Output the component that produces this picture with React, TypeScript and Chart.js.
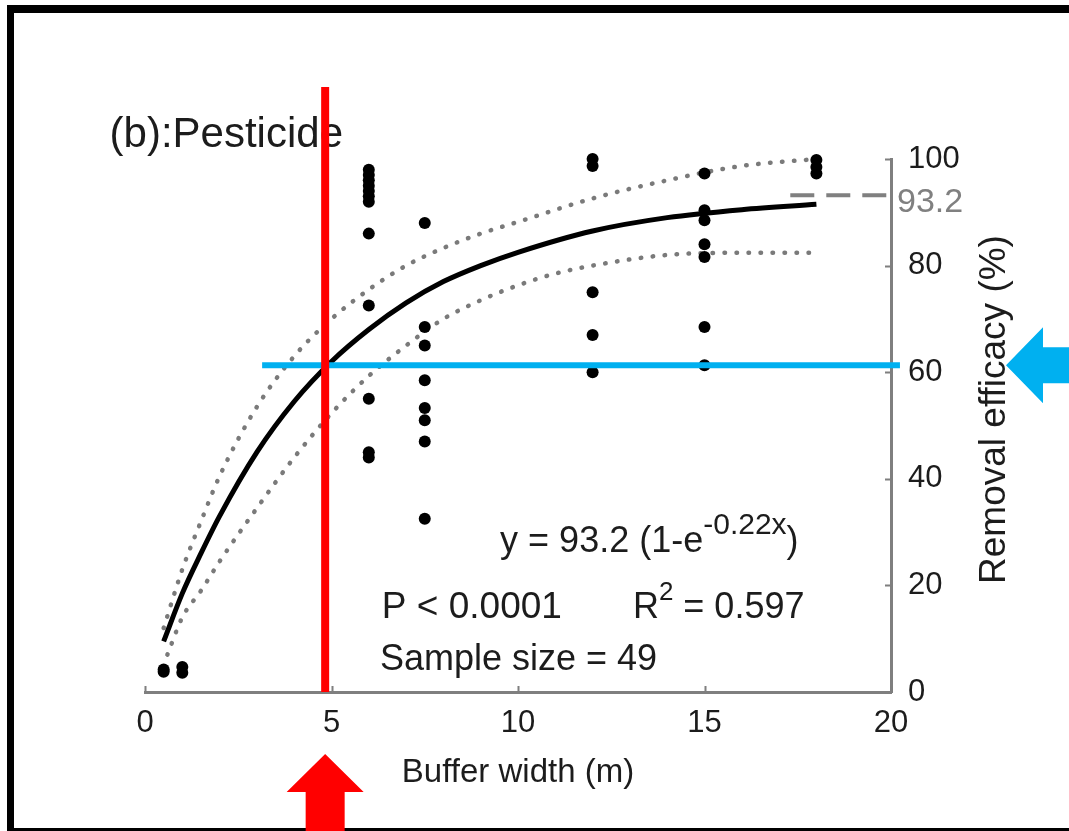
import React, { useEffect, useRef } from "react";
import { Chart, registerables } from "chart.js";

Chart.register(...registerables);

const FONT = "'Liberation Sans', Arial, Helvetica, sans-serif";
const AXIS = "#7f7f7f";
const TEXT = "#1c1c1c";
const DOT_GREY = "#7a7a7a";
const RED = "#ff0000";
const BLUE = "#00b0f0";

// ---- observations: buffer width (m) vs removal efficacy (%)
const obsX = [
  0.5, 0.5, 1, 1,
  6, 6, 6, 6, 6, 6, 6, 6, 6, 6, 6, 6,
  7.5, 7.5, 7.5, 7.5, 7.5, 7.5, 7.5, 7.5,
  12, 12, 12, 12, 12,
  15, 15, 15, 15, 15, 15, 15,
  18, 18, 18,
];
const obsY = [
  3.8, 4.2, 3.6, 4.7,
  98, 97, 96, 95, 94, 93, 92, 86, 72.5, 55, 45, 44,
  88, 68.5, 65, 58.5, 53.3, 51, 47, 32.5,
  100, 98.7, 75, 67, 60,
  97.3, 90.4, 88.5, 84, 81.6, 68.5, 61.3,
  99.8, 98.5, 97.3,
];

// ---- fitted curve
const fitX = [0.5, 1, 1.5, 2, 3, 4, 5, 6, 7, 8, 9, 10, 12, 14, 16, 18];
const fitY = [9.5, 18.5, 26, 33, 45, 54.5, 62, 68, 73, 77, 80, 82.5, 86.5, 89, 90.5, 91.5];

// ---- upper confidence band
const upX = [0.5, 1, 1.5, 2, 3, 4, 5, 6, 7, 8, 9, 10, 12, 14, 16, 18];
const upY = [12, 23, 32, 40.5, 53.5, 63, 70, 75.5, 80, 83.3, 86, 88.2, 92.6, 96, 98.7, 100];

// ---- lower confidence band
const loX = [0.6, 1, 1.5, 2, 3, 4, 5, 6, 7, 8, 9, 10, 11, 12, 14, 16, 18];
const loY = [7, 14, 19, 24.5, 34.5, 44, 52.3, 59.3, 65, 70, 73.5, 76.3, 78.5, 80, 82, 82.4, 82.4];

// ---- asymptote marker
const asymX = [17.3, 20];
const asymY = 93.2;
const asymLabel = "93.2";

// ---- highlight lines
const redX = 4.83;
const redY = [0, 113.5];
const blueY = 61.3;
const blueX = [3.14, 20.24];

// ---- axes
const xTicks = [0, 5, 10, 15, 20];
const yTicks = [0, 20, 40, 60, 80, 100];
const xTitle = "Buffer width (m)";
const yTitle = "Removal efficacy (%)";
const panelTitle = "(b):Pesticide";
const panelTitlePos = [-0.95, 102.3];

// ---- statistics text (anchored in data coordinates)
const eqPos = [9.52, 26.3];
const pPos = [6.35, 13.9];
const r2Pos = [13.08, 13.9];
const nPos = [6.3, 4.1];

type Part = { t: string; sup?: boolean; size?: number };

function drawRich(ctx: CanvasRenderingContext2D, parts: Part[], x: number, y: number, size: number) {
  let cx = x;
  ctx.textAlign = "left";
  ctx.textBaseline = "alphabetic";
  for (const p of parts) {
    if (p.sup) {
      ctx.font = `${p.size ?? Math.round(size * 0.8)}px ${FONT}`;
      ctx.fillText(p.t, cx, y - size * 0.5);
    } else {
      ctx.font = `${size}px ${FONT}`;
      ctx.fillText(p.t, cx, y);
    }
    cx += ctx.measureText(p.t).width;
  }
}

const decor = {
  id: "decor",
  beforeDatasetsDraw(chart: any) {
    const { ctx, scales, chartArea } = chart;
    const x = scales.x;
    const y = scales.y;
    ctx.save();
    // inward tick marks
    ctx.strokeStyle = AXIS;
    ctx.lineWidth = 2;
    ctx.beginPath();
    for (const v of xTicks) {
      const px = Math.round(x.getPixelForValue(v)) + 0.5;
      ctx.moveTo(px, chartArea.bottom);
      ctx.lineTo(px, chartArea.bottom - 6);
    }
    for (const v of yTicks) {
      const py = Math.round(y.getPixelForValue(v)) + 0.5;
      ctx.moveTo(chartArea.right, py);
      ctx.lineTo(chartArea.right - 6, py);
    }
    ctx.stroke();
    // panel title (drawn under the red line)
    ctx.fillStyle = TEXT;
    ctx.font = `42px ${FONT}`;
    ctx.textAlign = "left";
    ctx.textBaseline = "alphabetic";
    ctx.fillText(panelTitle, x.getPixelForValue(panelTitlePos[0]), y.getPixelForValue(panelTitlePos[1]));
    ctx.restore();
  },
  afterDraw(chart: any) {
    const { ctx, scales, chartArea, width, height } = chart;
    const x = scales.x;
    const y = scales.y;
    ctx.save();
    ctx.fillStyle = TEXT;
    const S = 36;
    drawRich(ctx, [{ t: "y = 93.2 (1-e" }, { t: "-0.22x", sup: true, size: 30 }, { t: ")" }],
      x.getPixelForValue(eqPos[0]), y.getPixelForValue(eqPos[1]), S);
    drawRich(ctx, [{ t: "P < 0.0001" }], x.getPixelForValue(pPos[0]), y.getPixelForValue(pPos[1]), 37);
    drawRich(ctx, [{ t: "R" }, { t: "2", sup: true, size: 26 }, { t: " = 0.597" }],
      x.getPixelForValue(r2Pos[0]), y.getPixelForValue(r2Pos[1]), S);
    drawRich(ctx, [{ t: "Sample size = 49" }], x.getPixelForValue(nPos[0]), y.getPixelForValue(nPos[1]), S);

    // asymptote label
    ctx.fillStyle = "#808080";
    ctx.font = `34px ${FONT}`;
    ctx.textAlign = "left";
    ctx.textBaseline = "middle";
    ctx.fillText(asymLabel, chartArea.right + 6, y.getPixelForValue(asymY) + 7);

    // y-axis title, reading bottom to top
    ctx.fillStyle = TEXT;
    ctx.font = `37px ${FONT}`;
    ctx.translate(chartArea.right + 104, y.getPixelForValue(53));
    ctx.rotate(-Math.PI / 2);
    ctx.textAlign = "center";
    ctx.textBaseline = "middle";
    ctx.fillText(yTitle, 0, 0);
    ctx.setTransform(1, 0, 0, 1, 0, 0);

    // frame
    ctx.fillStyle = "#000";
    ctx.fillRect(7, 5, width - 7, 8);
    ctx.fillRect(7, 5, 7, height - 5);
    ctx.fillRect(7, height - 3, width - 7, 3);

    // red arrow pointing up at the red line
    const rx = x.getPixelForValue(redX);
    const tipY = chartArea.bottom + 62;
    const headY = tipY + 38;
    ctx.fillStyle = RED;
    ctx.beginPath();
    ctx.moveTo(rx, tipY);
    ctx.lineTo(rx + 38.5, headY);
    ctx.lineTo(rx + 19.5, headY);
    ctx.lineTo(rx + 19.5, height);
    ctx.lineTo(rx - 19.5, height);
    ctx.lineTo(rx - 19.5, headY);
    ctx.lineTo(rx - 38.5, headY);
    ctx.closePath();
    ctx.fill();

    // blue arrow pointing left at the blue line
    const by = y.getPixelForValue(blueY);
    const tipX = chartArea.right + 115;
    const headX = tipX + 37;
    ctx.fillStyle = BLUE;
    ctx.beginPath();
    ctx.moveTo(tipX, by);
    ctx.lineTo(headX, by - 38);
    ctx.lineTo(headX, by - 18);
    ctx.lineTo(width, by - 18);
    ctx.lineTo(width, by + 18);
    ctx.lineTo(headX, by + 18);
    ctx.lineTo(headX, by + 38);
    ctx.closePath();
    ctx.fill();
    ctx.restore();
  },
};

export default function App() {
  const ref = useRef<HTMLCanvasElement>(null);
  useEffect(() => {
    const canvas = ref.current;
    if (!canvas) return;
    const pts = (xs: number[], ys: number[]) => xs.map((v, i) => ({ x: v, y: ys[i] }));
    const chart = new Chart(canvas, {
      type: "line",
      data: {
        datasets: [
          {
            label: "red",
            data: [{ x: redX, y: redY[0] }, { x: redX, y: redY[1] }],
            borderColor: RED,
            borderWidth: 8,
            pointRadius: 0,
            clip: false,
            order: 0,
          },
          {
            label: "blue",
            data: [{ x: blueX[0], y: blueY }, { x: blueX[1], y: blueY }],
            borderColor: BLUE,
            borderWidth: 6,
            pointRadius: 0,
            clip: false,
            order: 1,
          },
          {
            label: "obs",
            data: pts(obsX, obsY),
            showLine: false,
            pointRadius: 6,
            pointBackgroundColor: "#000",
            pointBorderWidth: 0,
            borderColor: "#000",
            clip: false,
            order: 2,
          },
          {
            label: "asym",
            data: asymX.map((v) => ({ x: v, y: asymY })),
            borderColor: "#808080",
            borderWidth: 4,
            borderDash: [24, 12],
            pointRadius: 0,
            clip: false,
            order: 3,
          },
          {
            label: "fit",
            data: pts(fitX, fitY),
            borderColor: "#000",
            borderWidth: 5,
            cubicInterpolationMode: "monotone",
            pointRadius: 0,
            clip: false,
            order: 3,
          },
          {
            label: "upper",
            data: pts(upX, upY),
            borderColor: DOT_GREY,
            borderWidth: 4.5,
            borderDash: [0.5, 11.5],
            borderCapStyle: "round",
            cubicInterpolationMode: "monotone",
            pointRadius: 0,
            clip: false,
            order: 4,
          },
          {
            label: "lower",
            data: pts(loX, loY),
            borderColor: DOT_GREY,
            borderWidth: 4.5,
            borderDash: [0.5, 11.5],
            borderCapStyle: "round",
            cubicInterpolationMode: "monotone",
            pointRadius: 0,
            clip: false,
            order: 4,
          },
        ] as any,
      },
      options: {
        responsive: false,
        animation: false,
        devicePixelRatio: 1,
        events: [],
        layout: { padding: { left: 145, top: 159, right: 0, bottom: 0 } },
        plugins: { legend: { display: false }, tooltip: { enabled: false }, title: { display: false } },
        scales: {
          x: {
            type: "linear",
            position: "bottom",
            min: 0,
            max: 20,
            afterBuildTicks: (s: any) => { s.ticks = xTicks.map((v) => ({ value: v })); },
            afterFit: (s: any) => { s.height = 139; },
            ticks: { color: TEXT, font: { family: FONT, size: 31 }, padding: 13, maxRotation: 0, autoSkip: false },
            grid: { display: false, drawTicks: false },
            border: { display: true, color: AXIS, width: 3 },
            title: {
              display: true,
              text: xTitle,
              color: TEXT,
              font: { family: FONT, size: 33 },
              padding: { top: 0, bottom: 38 },
            },
          },
          y: {
            type: "linear",
            position: "right",
            min: 0,
            max: 100,
            afterBuildTicks: (s: any) => { s.ticks = yTicks.map((v) => ({ value: v })); },
            afterFit: (s: any) => { s.width = 178; },
            ticks: { color: TEXT, font: { family: FONT, size: 31 }, padding: 17, autoSkip: false },
            grid: { display: false, drawTicks: false },
            border: { display: true, color: AXIS, width: 3 },
          },
        },
      } as any,
      plugins: [decor],
    });
    return () => chart.destroy();
  }, []);
  return (
    <div style={{ position: "absolute", left: 0, top: 0, width: 1069, height: 831, background: "#fff" }}>
      <canvas ref={ref} width={1069} height={831} style={{ display: "block", width: 1069, height: 831 }} />
    </div>
  );
}
